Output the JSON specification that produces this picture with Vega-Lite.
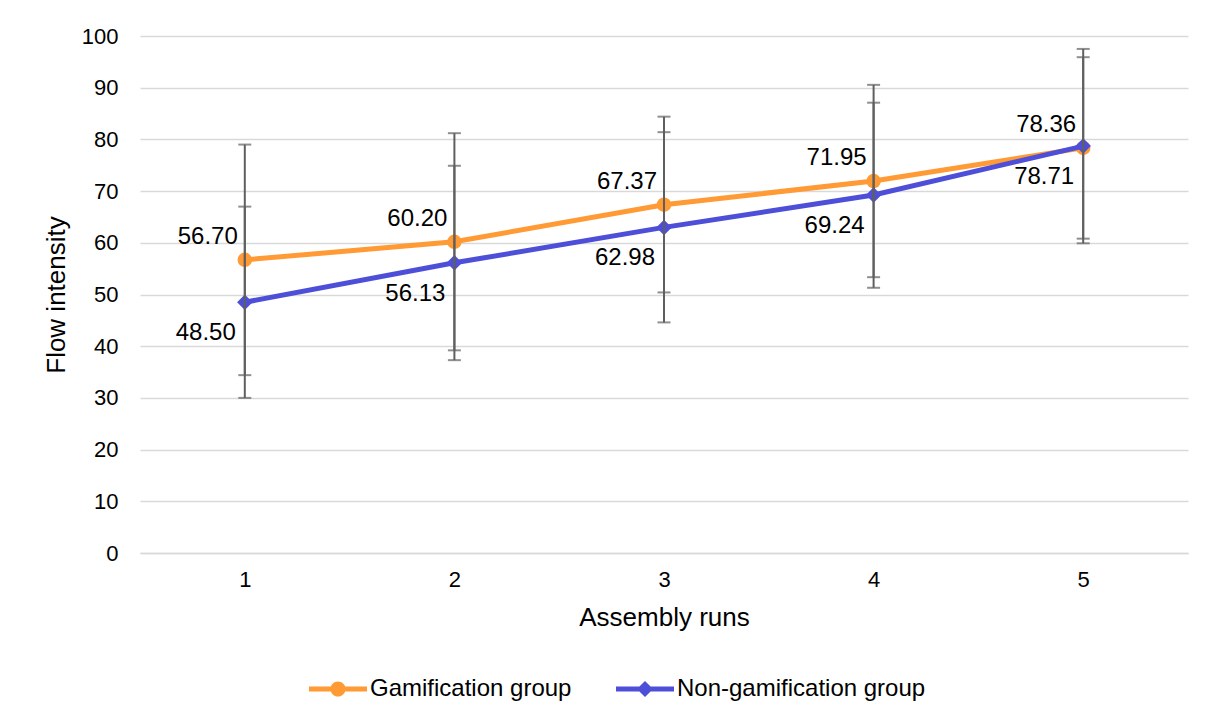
{
  "$schema": "https://vega.github.io/schema/vega-lite/v6.json",
  "autosize": "none",
  "width": 1048,
  "height": 517,
  "padding": {"left": 140, "top": 36, "right": 24, "bottom": 166},
  "background": "#ffffff",
  "config": {
    "font": "Liberation Sans",
    "view": {"stroke": null},
    "axis": {"labelColor": "#000000", "titleColor": "#000000", "labelFont": "Liberation Sans", "titleFont": "Liberation Sans", "titleFontWeight": "normal"}
  },
  "data": {
    "values": [
      {"run": "1", "group": "Gamification group", "mean": 56.70, "lo": 34.4, "hi": 79.0},
      {"run": "2", "group": "Gamification group", "mean": 60.20, "lo": 39.2, "hi": 81.2},
      {"run": "3", "group": "Gamification group", "mean": 67.37, "lo": 50.4, "hi": 84.4},
      {"run": "4", "group": "Gamification group", "mean": 71.95, "lo": 53.35, "hi": 90.55},
      {"run": "5", "group": "Gamification group", "mean": 78.36, "lo": 60.8, "hi": 95.9},
      {"run": "1", "group": "Non-gamification group", "mean": 48.50, "lo": 30.0, "hi": 67.0},
      {"run": "2", "group": "Non-gamification group", "mean": 56.13, "lo": 37.3, "hi": 74.9},
      {"run": "3", "group": "Non-gamification group", "mean": 62.98, "lo": 44.6, "hi": 81.4},
      {"run": "4", "group": "Non-gamification group", "mean": 69.24, "lo": 51.3, "hi": 87.1},
      {"run": "5", "group": "Non-gamification group", "mean": 78.71, "lo": 59.9, "hi": 97.5}
    ]
  },
  "encoding": {
    "x": {
      "field": "run", "type": "ordinal",
      "scale": {"type": "point", "padding": 0.5},
      "axis": {"title": "Assembly runs", "labelAngle": 0, "labelFontSize": 22, "titleFontSize": 26, "labelPadding": 16, "titlePadding": 14, "ticks": false, "domain": true, "domainColor": "#d9d9d9", "domainWidth": 1.3, "grid": false}
    },
    "y": {"field": "mean", "type": "quantitative", "scale": {"domain": [0, 100]},
      "axis": {"title": "Flow intensity", "values": [0,10,20,30,40,50,60,70,80,90,100], "labelFontSize": 22, "titleFontSize": 26, "labelPadding": 22, "titlePadding": 12, "ticks": false, "domain": false, "gridColor": "#d9d9d9", "gridWidth": 1.3}},
    "color": {"field": "group", "type": "nominal",
      "scale": {"domain": ["Gamification group", "Non-gamification group"], "range": ["#FF9A35", "#4E4FD8"]},
      "legend": {
        "title": null, "orient": "none", "direction": "horizontal", "legendX": 169, "legendY": 624,
        "labelFontSize": 24, "labelColor": "#000000", "labelFont": "Liberation Sans", "labelLimit": 0,
        "symbolSize": 3364, "symbolStrokeWidth": 0, "columnPadding": 44, "labelOffset": 3,
        "encode": {"symbols": {"update": {
          "shape": {"signal": "datum.value === 'Gamification group' ? 'M-1,-0.09H1V0.09H-1Z M0.26,0A0.26,0.26 0 1,1 -0.26,0A0.26,0.26 0 1,1 0.26,0Z' : 'M-1,-0.09H1V0.09H-1Z M0,-0.28L0.28,0L0,0.28L-0.28,0Z'"},
          "fillOpacity": {"value": 1},
          "strokeWidth": {"value": 0}
        }}}
      }}
  },
  "layer": [
    {
      "transform": [{"filter": "datum.group === 'Gamification group'"}],
      "mark": {"type": "line", "strokeWidth": 5}
    },
    {
      "transform": [{"filter": "datum.group === 'Gamification group'"}],
      "mark": {"type": "point", "shape": "circle", "filled": true, "opacity": 1, "size": 210}
    },
    {
      "transform": [{"filter": "datum.group === 'Non-gamification group'"}],
      "mark": {"type": "line", "strokeWidth": 5}
    },
    {
      "transform": [{"filter": "datum.group === 'Non-gamification group'"}],
      "mark": {"type": "point", "shape": "diamond", "filled": true, "opacity": 1, "size": 240}
    },
    {
      "mark": {"type": "rule", "strokeWidth": 2},
      "encoding": {
        "y": {"field": "lo", "type": "quantitative"},
        "y2": {"field": "hi"},
        "color": {"value": "#5f5f5f"}
      }
    },
    {
      "mark": {"type": "tick", "thickness": 2, "size": 13, "orient": "horizontal"},
      "encoding": {"y": {"field": "lo", "type": "quantitative"}, "color": {"value": "#5f5f5f"}}
    },
    {
      "mark": {"type": "tick", "thickness": 2, "size": 13, "orient": "horizontal"},
      "encoding": {"y": {"field": "hi", "type": "quantitative"}, "color": {"value": "#5f5f5f"}}
    },
    {
      "transform": [{"filter": "datum.group === 'Gamification group'"}],
      "mark": {"type": "text", "align": "right", "baseline": "middle", "dx": -7, "dy": -23, "fontSize": 24, "font": "Liberation Sans"},
      "encoding": {
        "text": {"field": "mean", "type": "quantitative", "format": ".2f"},
        "color": {"value": "#000000"}
      }
    },
    {
      "transform": [{"filter": "datum.group === 'Non-gamification group'"}],
      "mark": {"type": "text", "align": "right", "baseline": "middle", "dx": -9, "dy": 31, "fontSize": 24, "font": "Liberation Sans"},
      "encoding": {
        "text": {"field": "mean", "type": "quantitative", "format": ".2f"},
        "color": {"value": "#000000"}
      }
    }
  ]
}
